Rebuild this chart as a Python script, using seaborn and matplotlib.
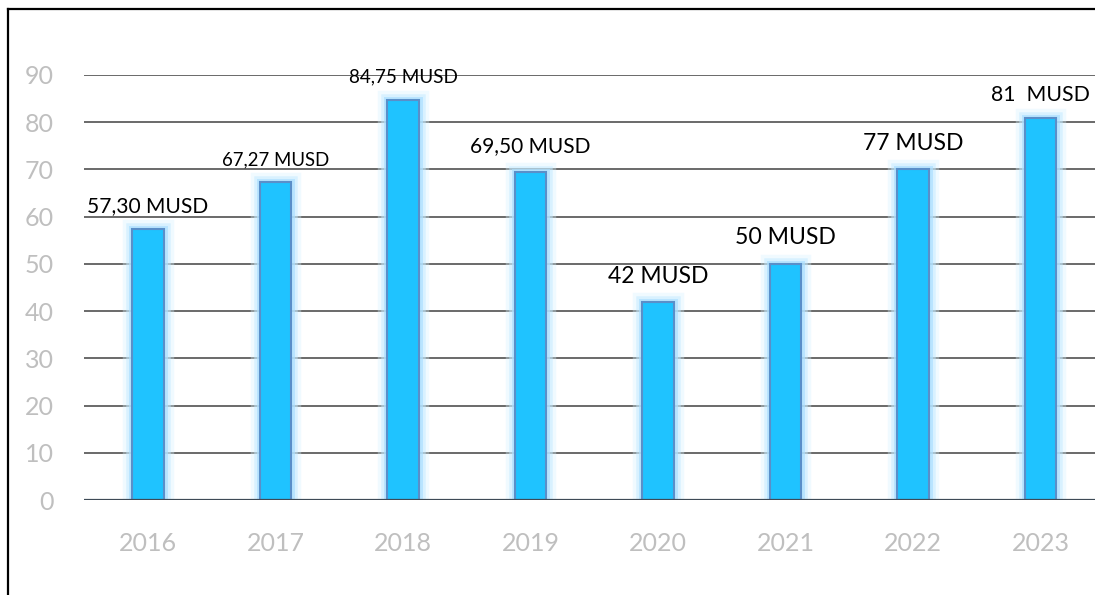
import matplotlib
matplotlib.use("Agg")
import matplotlib.pyplot as plt
import matplotlib.patheffects as pe
from matplotlib.lines import Line2D
import seaborn as sns
import pandas as pd

# ---- data ----
years = ["2016", "2017", "2018", "2019", "2020", "2021", "2022", "2023"]
values = [57.30, 67.27, 84.75, 69.50, 42.0, 50.0, 70.0, 81.0]
labels = ["57,30 MUSD", "67,27 MUSD", "84,75 MUSD", "69,50 MUSD",
          "42 MUSD", "50 MUSD", "77 MUSD", "81  MUSD"]
y_ticks = [0, 10, 20, 30, 40, 50, 60, 70, 80, 90]

# ---- label styling (positions / sizes) ----
label_y = [61.0, 70.8, 88.4, 73.6, 45.9, 54.2, 74.1, 84.4]
label_size = [15.1, 13.4, 13.6, 15.0, 16.5, 16.6, 16.5, 15.3]

sns.set_theme(style="white")
plt.rcParams["font.family"] = ["Lato", "DejaVu Sans"]

df = pd.DataFrame({"year": years, "value": values})

fig = plt.figure(figsize=(10.95, 5.95), dpi=100)
ax = fig.add_axes([84.25 / 1095, 95 / 595, 1020 / 1095, 425 / 595])

sns.barplot(data=df, x="year", y="value", color="#1FC3FF", saturation=1,
            width=0.25, edgecolor="#5A8FC9", linewidth=1.5, ax=ax, zorder=3)

glow = [pe.Stroke(linewidth=14, foreground="#D6F1FF", alpha=0.35),
        pe.Stroke(linewidth=9, foreground="#C2E9FF", alpha=0.5),
        pe.Stroke(linewidth=5, foreground="#ABDFFF", alpha=0.7),
        pe.Normal()]
for p in ax.patches:
    p.set_path_effects(glow)

ax.set_ylim(0, 90)
ax.set_xlim(-0.5, len(years) - 0.5)
ax.set_yticks(y_ticks)
ax.set_xlabel("")
ax.set_ylabel("")
for s in ax.spines.values():
    s.set_visible(False)

ax.set_axisbelow(True)
for t in y_ticks[1:]:
    ax.axhline(t, color="#5E5E5E", lw=1.3, zorder=1)
ax.axhline(0, color="#3E4A56", lw=1.6, zorder=4)

ax.tick_params(axis="y", length=0, pad=22, labelsize=18, labelcolor="#BFBFBF")
ax.tick_params(axis="x", length=0, pad=23, labelsize=18, labelcolor="#BFBFBF")

for i, lab in enumerate(labels):
    ax.text(i, label_y[i], lab, ha="center", va="baseline",
            fontsize=label_size[i], color="#000000", clip_on=False, zorder=5)

# outer frame (left and top edges visible, the rest is cropped)
fx = 7.5 / 1095
fy = 1 - 8.5 / 595
fig.add_artist(Line2D([fx, fx], [0, fy], transform=fig.transFigure,
                      color="black", lw=1.6, solid_capstyle="projecting"))
fig.add_artist(Line2D([fx, 1], [fy, fy], transform=fig.transFigure,
                      color="black", lw=1.6, solid_capstyle="projecting"))

fig.savefig("out.png", dpi=100)
